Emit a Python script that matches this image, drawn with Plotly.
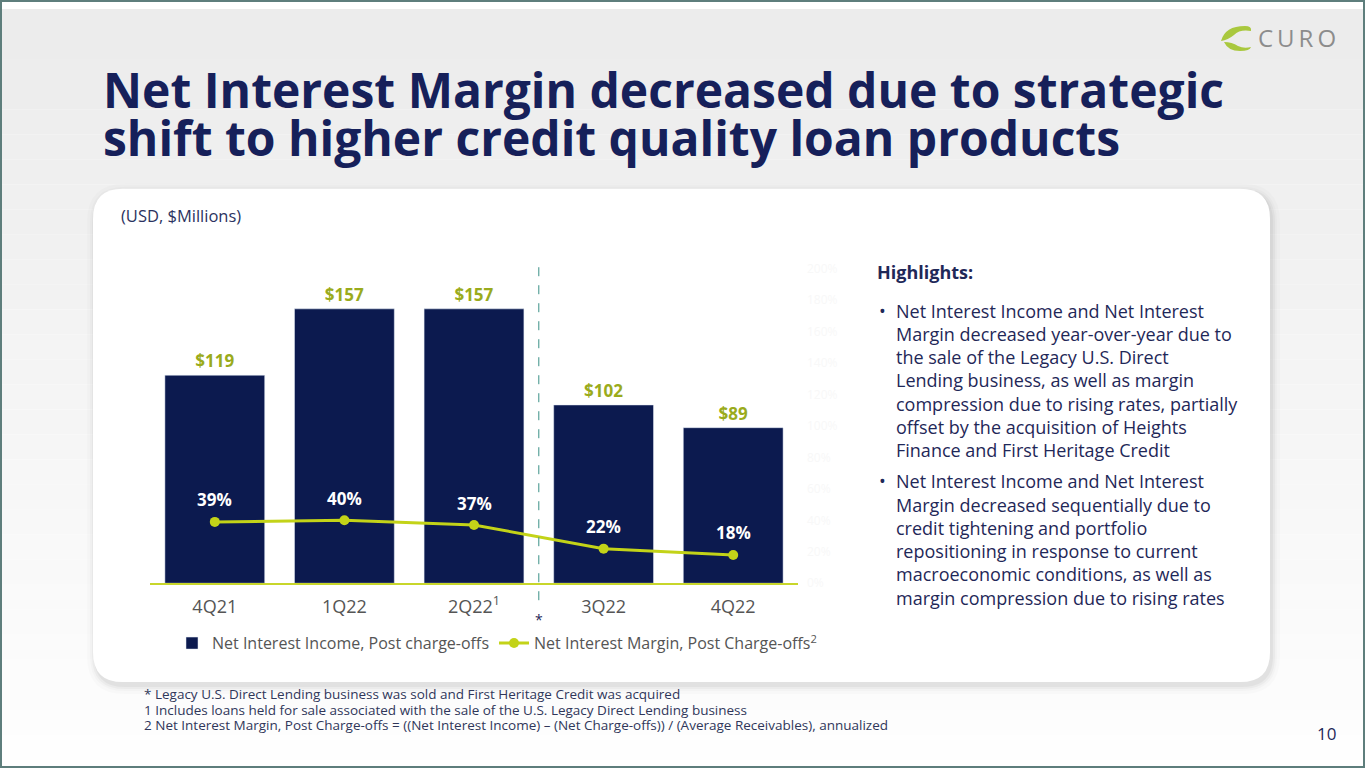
import plotly.graph_objects as go

W, H = 1365, 768
# the page shows the figure 8px down and 752px tall; map slide pixels onto that
TOP, DRAWN_H = 8, 752

quarters = ["4Q21", "1Q22", "2Q22", "3Q22", "4Q22"]
tick_labels = ["4Q21", "1Q22", "2Q22<sup>1</sup>", "3Q22", "4Q22"]
nii_post_co = [119, 157, 157, 102, 89]          # $ millions
nim_post_co = [0.39, 0.40, 0.37, 0.22, 0.18]    # ratio
y2_ticks = [0, 0.2, 0.4, 0.6, 0.8, 1.0, 1.2, 1.4, 1.6, 1.8, 2.0]

title_lines = [
    "Net Interest Margin decreased due to strategic",
    "shift to higher credit quality loan products",
]
highlights_1 = [
    "Net Interest Income and Net Interest",
    "Margin decreased year-over-year due to",
    "the sale of the Legacy U.S. Direct",
    "Lending business, as well as margin",
    "compression due to rising rates, partially",
    "offset by the acquisition of Heights",
    "Finance and First Heritage Credit",
]
highlights_2 = [
    "Net Interest Income and Net Interest",
    "Margin decreased sequentially due to",
    "credit tightening and portfolio",
    "repositioning in response to current",
    "macroeconomic conditions, as well as",
    "margin compression due to rising rates",
]
footnotes = [
    "* Legacy U.S. Direct Lending business was sold and First Heritage Credit was acquired",
    "1 Includes loans held for sale associated with the sale of the U.S. Legacy Direct Lending business",
    "2 Net Interest Margin, Post Charge-offs = ((Net Interest Income) \u2013 (Net Charge-offs)) / (Average Receivables), annualized",
]

NAVY = "#0c1a4f"
TEXT = "#1f2858"
LIME = "#c3d318"
OLIVE = "#9aab1c"
FONT = "Open Sans"


def px(x):
    return x / W


def py(y):
    return 1 - (y - TOP) / DRAWN_H


def to_path(cmds):
    s = ""
    for cmd, ps in cmds:
        s += cmd + " " + " ".join(f"{px(a):.5f},{py(b):.5f}" for a, b in ps) + " "
    return s + "Z"


def rounded_path(x0, y0, x1, y1, r):
    return to_path([
        ("M", [(x0 + r, y0)]),
        ("L", [(x1 - r, y0)]),
        ("Q", [(x1, y0), (x1, y0 + r)]),
        ("L", [(x1, y1 - r)]),
        ("Q", [(x1, y1), (x1 - r, y1)]),
        ("L", [(x0 + r, y1)]),
        ("Q", [(x0, y1), (x0, y1 - r)]),
        ("L", [(x0, y0 + r)]),
        ("Q", [(x0, y0), (x0 + r, y0)]),
    ])


fig = go.Figure()

fig.add_trace(go.Bar(
    x=quarters, y=nii_post_co,
    name="Net Interest Income, Post charge-offs",
    marker=dict(color=NAVY),
    text=[f"${v}" for v in nii_post_co],
    textposition="outside",
    textfont=dict(color=OLIVE, size=17, family=FONT, weight="bold"),
    cliponaxis=False,
))

fig.add_trace(go.Scatter(
    x=quarters, y=nim_post_co, yaxis="y2",
    name="Net Interest Margin, Post Charge-offs<sup>2</sup>",
    mode="lines+markers",
    line=dict(color=LIME, width=3),
    marker=dict(color=LIME, size=10),
))

shapes = []
# background gradient
n = 30
for i in range(n):
    g = int(236 + (254 - 236) * i / (n - 1))
    shapes.append(dict(type="rect", xref="paper", yref="paper", layer="below",
                       x0=0, x1=1, y0=py(TOP + DRAWN_H * (i + 1) / n), y1=py(TOP + DRAWN_H * i / n),
                       fillcolor=f"rgb({g},{g},{g})", line=dict(width=0)))
# card shadow + card
for off, a in [(8, 0.015), (5, 0.02), (3, 0.03), (1, 0.04)]:
    shapes.append(dict(type="path", xref="paper", yref="paper", layer="below",
                       path=rounded_path(93 - off + 2, 188 - off + 3, 1270 + off + 2, 682 + off + 4, 30 + off),
                       fillcolor=f"rgba(0,0,0,{a})", line=dict(width=0)))
shapes.append(dict(type="path", xref="paper", yref="paper", layer="below",
                   path=rounded_path(93, 188, 1270, 682, 30),
                   fillcolor="white", line=dict(width=0)))
# divider between 2Q22 and 3Q22
shapes.append(dict(type="line", xref="x", yref="paper", x0=2.5, x1=2.5,
                   y0=py(600), y1=py(264), line=dict(color="#3a9187", width=1, dash="dash")))
# logo leaf
shapes.append(dict(type="path", xref="paper", yref="paper",
                   path=to_path([("M", [(1221, 40)]), ("Q", [(1225, 25), (1245, 25)]),
                                 ("Q", [(1252, 25), (1251, 30)]), ("Q", [(1240, 28), (1234, 34)]),
                                 ("Q", [(1228, 39), (1221, 40)])]),
                   fillcolor="#a9c83e", line=dict(width=0)))
shapes.append(dict(type="path", xref="paper", yref="paper",
                   path=to_path([("M", [(1224, 41)]), ("Q", [(1232, 41), (1238, 45)]),
                                 ("Q", [(1244, 48), (1251, 46)]), ("Q", [(1250, 50), (1240, 50)]),
                                 ("Q", [(1228, 50), (1224, 41)])]),
                   fillcolor="#a9c83e", line=dict(width=0)))

ann = []
# percent labels over line points
for q, v in zip(quarters, nim_post_co):
    ann.append(dict(x=q, y=v, xref="x", yref="y2", text=f"<b>{v:.0%}</b>", showarrow=False,
                    yshift=22, font=dict(color="white", size=17, family=FONT)))

for i, line in enumerate(title_lines):
    ann.append(dict(x=px(101), y=py(89 + i * 48), xref="paper", yref="paper", xanchor="left",
                    yanchor="middle", text=f"<b>{line}</b>", showarrow=False,
                    font=dict(color="#16205a", size=48, family=FONT)))
ann.append(dict(x=px(1256), y=py(37), xref="paper", yref="paper", xanchor="left", yanchor="middle",
                text="C\u2009U\u2009R\u2009O", showarrow=False, font=dict(color="#8c8c8c", size=24, family=FONT)))
ann.append(dict(x=px(119), y=py(215), xref="paper", yref="paper", xanchor="left", yanchor="middle",
                text="(USD, $Millions)", showarrow=False, font=dict(color="#2b3360", size=16.5, family=FONT)))
ann.append(dict(x=2.5, y=py(619), xref="x", yref="paper", xanchor="center", yanchor="middle",
                text="*", showarrow=False, font=dict(color=TEXT, size=14, family=FONT)))

ann.append(dict(x=px(875), y=py(271), xref="paper", yref="paper", xanchor="left", yanchor="middle",
                text="<b>Highlights:</b>", showarrow=False, font=dict(color=TEXT, size=18, family=FONT)))


def bullet_block(lines, y_start, step=23.3):
    ann.append(dict(x=px(877), y=py(y_start), xref="paper", yref="paper", xanchor="left", yanchor="middle",
                    text="\u2022", showarrow=False, font=dict(color=TEXT, size=18, family=FONT)))
    for i, line in enumerate(lines):
        ann.append(dict(x=px(894), y=py(y_start + i * step), xref="paper", yref="paper",
                        xanchor="left", yanchor="middle", text=line, showarrow=False,
                        font=dict(color=TEXT, size=18, family=FONT)))


bullet_block(highlights_1, 310)
bullet_block(highlights_2, 481)

for i, f in enumerate(footnotes):
    ann.append(dict(x=px(142), y=py(694 + i * 15.5), xref="paper", yref="paper", xanchor="left",
                    yanchor="middle", text=f, showarrow=False,
                    font=dict(color="#30375a", size=13.5, family=FONT)))
ann.append(dict(x=px(1338), y=py(733), xref="paper", yref="paper", xanchor="right", yanchor="middle",
                text="10", showarrow=False, font=dict(color=TEXT, size=17, family=FONT)))

fig.update_layout(
    width=W, height=H,
    autosize=False,
    margin=dict(l=0, r=0, t=0, b=0),
    paper_bgcolor="white",
    plot_bgcolor="rgba(0,0,0,0)",
    font=dict(family=FONT, color="#555555"),
    bargap=0.23,
    showlegend=True,
    legend=dict(orientation="h", x=px(172), y=py(626), xanchor="left", yanchor="top",
                font=dict(size=16, color="#555555", family=FONT), bgcolor="rgba(0,0,0,0)",
                traceorder="normal", itemwidth=30),
    xaxis=dict(domain=[px(150), px(798)], tickvals=quarters, ticktext=tick_labels,
               showline=True, linecolor="#c8d62b", linewidth=2, showgrid=False, ticks="",
               tickfont=dict(size=18, color="#555555", family=FONT), ticklabelstandoff=6),
    yaxis=dict(domain=[py(583), py(268)], range=[0, 180], visible=False),
    yaxis2=dict(overlaying="y", side="right", range=[0, 2.0], tickvals=y2_ticks, tickformat=".0%",
                showgrid=False, zeroline=False, showline=False,
                tickfont=dict(size=12, color="#f8f8f8", family=FONT), ticklabelstandoff=8),
    shapes=shapes,
    annotations=ann,
)

page_js = """
document.body.style.margin = '0px';
document.documentElement.style.background = 'linear-gradient(#ebebeb, #fefefe)';
document.body.style.background = 'transparent';
var frame = document.createElement('div');
frame.style.cssText = 'position:fixed;left:0;top:0;right:0;bottom:0;border:2px solid #5e7e7c;pointer-events:none;';
document.body.appendChild(frame);
"""
fig.write_html("out.html", config={"displayModeBar": False, "responsive": False}, post_script=page_js)
